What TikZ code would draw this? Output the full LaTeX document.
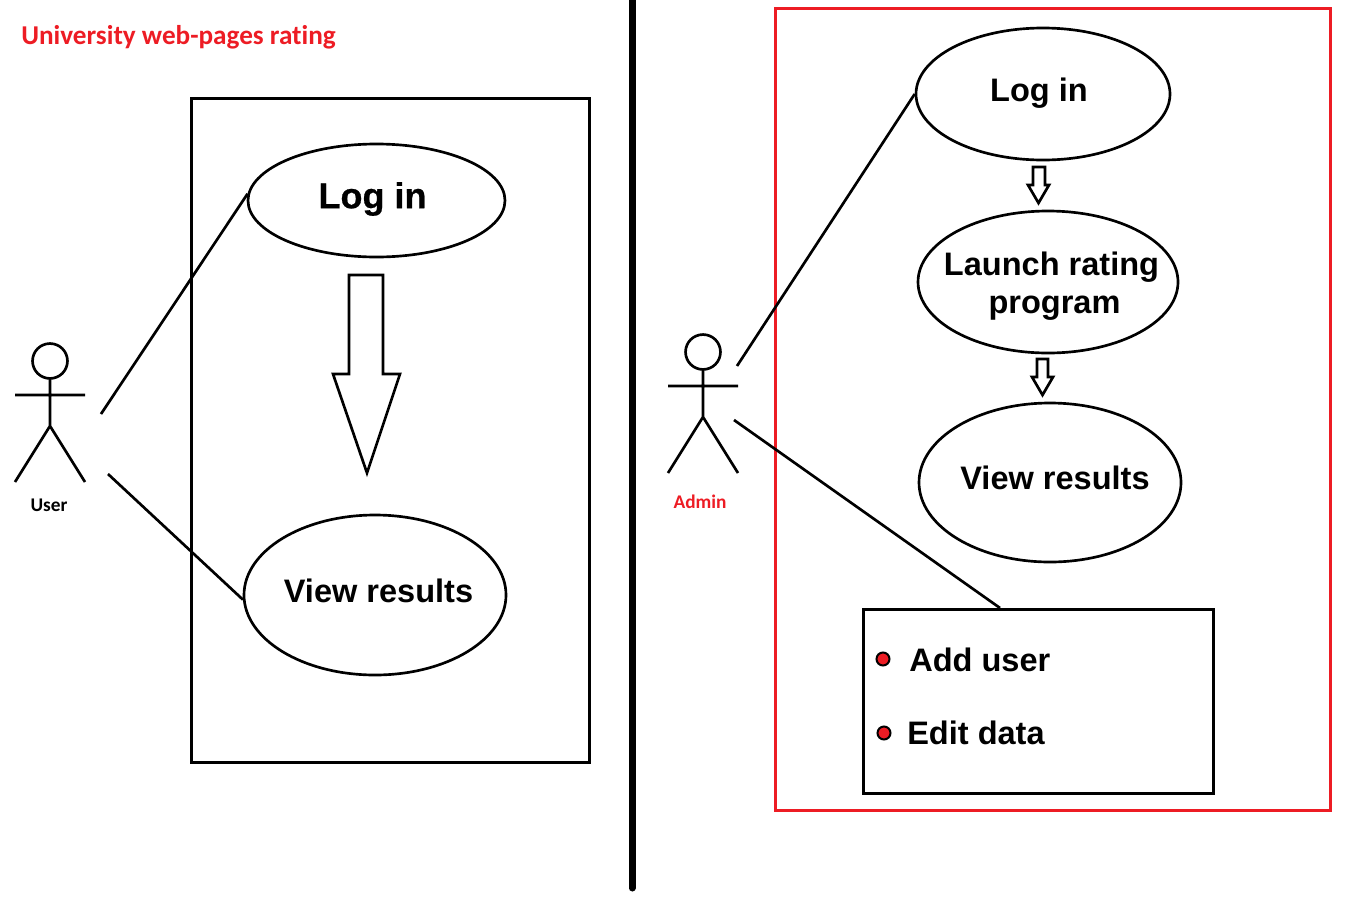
\documentclass[tikz,border=0pt]{standalone}
\usepackage{fontspec}
\setmainfont{Liberation Sans}
\newfontfamily\titlefont[Ligatures=NoCommon]{Carlito}
\newfontfamily\heavyfont[FakeBold=0.6]{Liberation Sans Bold}
\usetikzlibrary{shapes.geometric}
\definecolor{paintred}{HTML}{ED1C24}
\tikzset{
usecase/.style={draw,ellipse,line width=2pt,inner sep=0pt},
casetext/.style={font=\fontsize{24.4}{29}\selectfont\bfseries,align=center,inner sep=0pt},
actorname/.style={font=\titlefont\fontsize{14.5}{16}\selectfont\bfseries,inner sep=0pt},
wire/.style={line width=2pt},
frame/.style={draw,line width=2.25pt},
blockarrow/.style={draw,line width=2pt,miter limit=10},
dot/.style={circle,draw,line width=1.5pt,fill=paintred,minimum size=9.75pt,inner sep=0pt}
}
\begin{document}
\begin{tikzpicture}[x=0.75pt,y=-0.75pt]
\useasboundingbox (0,0) rectangle (1358,903);
\draw[line width=5.25pt,line cap=round] (632,-5) coordinate (barTop) -- (632,888) coordinate (barEnd);
\node[anchor=west,text=paintred,font=\titlefont\fontsize{20.4}{22}\selectfont\bfseries,inner sep=0pt] (title) at (21,37.5) {University web-pages rating};
\node[frame,minimum width=299pt,minimum height=497.75pt,inner sep=0pt] (frameU) at (390.5,430.5) {};
\node[frame,draw=paintred,minimum width=416.25pt,minimum height=601pt,inner sep=0pt] (frameA) at (1053,409.5) {};
\node[usecase,minimum width=192.75pt,minimum height=84.75pt] (loginU) at (376.5,200.5) {};
\node[usecase,minimum width=196.5pt,minimum height=120pt] (viewU) at (375,595) {};
\node[usecase,minimum width=190.5pt,minimum height=99pt] (loginA) at (1043,94) {};
\node[usecase,minimum width=195pt,minimum height=106.5pt] (launchA) at (1048,282) {};
\node[usecase,minimum width=196.5pt,minimum height=119.25pt] (viewA) at (1050,482.5) {};
\node[casetext,font=\heavyfont\fontsize{27}{32}\selectfont] (loginUtext) at (372.5,199) {Log in};
\node[casetext] (viewUtext) at (378.5,591) {View results};
\node[casetext] (loginAtext) at (1039,93) {Log in};
\node[casetext] (launchAtext) at (1051.5,286) {Launch rating\\\hspace*{4.5pt}program};
\node[casetext] (viewAtext) at (1055,478) {View results};
\node[frame,minimum width=262.5pt,minimum height=138pt,inner sep=0pt] (listA) at (1038,701.5) {};
\node[dot] (dotAdd) at (883,659) {};
\node[dot] (dotEdit) at (884,733) {};
\node[casetext,anchor=west] (addtext) at (909,660) {Add user};
\node[casetext,anchor=west] (edittext) at (907,733) {Edit data};
\foreach \name/\x/\y in {U/50/361,A/703/352}{
\path (\x,\y) coordinate (head\name)
  ++(0,17.5) coordinate (neck\name)
  (\x,\y)++(-35,34) coordinate (armL\name) ++(70,0) coordinate (armR\name)
  (\x,\y)++(0,65) coordinate (hip\name)
  ++(-35,56) coordinate (footL\name) ++(70,0) coordinate (footR\name);
\draw[wire] (head\name) circle (13.1pt);
\draw[wire] (neck\name) -- (hip\name) (armL\name) -- (armR\name) (footL\name) -- (hip\name) -- (footR\name);
}
\node[actorname] (nameU) at (49,505) {User};
\node[actorname,text=paintred] (nameA) at (700,502) {Admin};
\path (101,414) coordinate (handU1) (108,474) coordinate (handU2) (737,366) coordinate (handA1) (734,420) coordinate (handA2);
\path ([xshift=-28.5pt]listA.north) coordinate (listTop);
\draw[wire] (handU1) -- (loginU.177);
\draw[wire] (handU2) -- (viewU.182);
\draw[wire] (handA1) -- (loginA.west);
\draw[wire] (handA2) -- (listTop);
\draw[blockarrow] (349,275) -- (383,275) -- (383,374) -- (400,374) -- (367,473) -- (333,374) -- (349,374) -- cycle;
\draw[blockarrow] (1033,167) -- (1045,167) -- (1045,185) -- (1049,185) -- (1038.5,203) -- (1028,185) -- (1033,185) -- cycle;
\draw[blockarrow] (1037,359) -- (1048,359) -- (1048,377) -- (1053,377) -- (1042.5,395) -- (1032,377) -- (1037,377) -- cycle;
\end{tikzpicture}
\end{document}
